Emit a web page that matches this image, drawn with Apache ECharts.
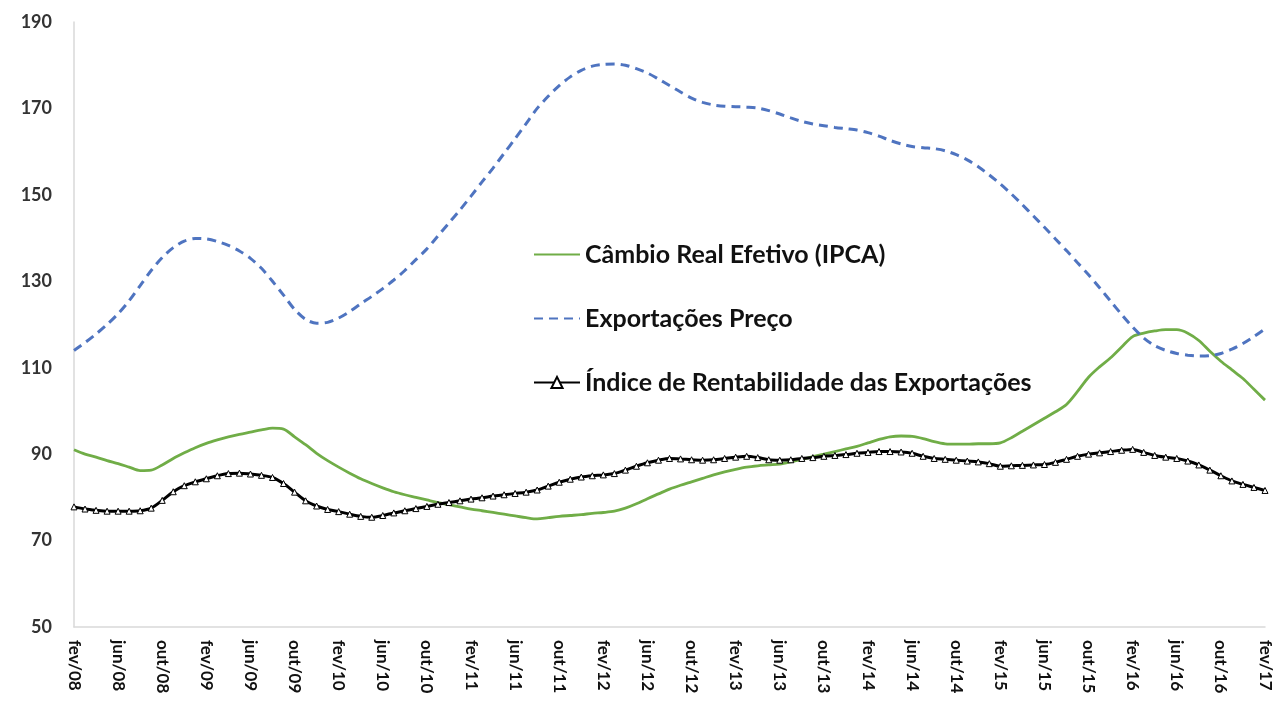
<!DOCTYPE html>
<html>
<head>
<meta charset="utf-8">
<script src="https://cdn.jsdelivr.net/npm/echarts@6/dist/echarts.min.js"></script>
<style>
html,body{margin:0;padding:0;background:#fff;}
#c{width:1277px;height:712px;}
</style>
</head>
<body>
<div id="c"></div>
<script>
// Categories: monthly, fev/08 .. fev/17
const monthNames = ['jan','fev','mar','abr','mai','jun','jul','ago','set','out','nov','dez'];
const categories = [];
for (let y = 8; y <= 17; y++) {
  for (let m = 0; m < 12; m++) {
    if (y === 8 && m < 1) continue;
    if (y === 17 && m > 1) continue;
    categories.push(monthNames[m] + '/' + (y < 10 ? '0' + y : '' + y));
  }
}

const seriesNames = ['Câmbio Real Efetivo (IPCA)', 'Exportações Preço', 'Índice de Rentabilidade das Exportações'];

const cambioReal = [
  91,90,89.3,88.5,87.8,87,86.2,86.3,87.5,89,90.3,91.5,92.5,93.3,94,94.6,95.1,95.6,96,95.8,
  94,92.2,90.2,88.5,87,85.6,84.3,83.2,82.2,81.3,80.6,80,79.4,78.8,78.3,77.8,77.3,76.9,76.5,76.1,
  75.7,75.3,75,75.3,75.6,75.8,76,76.3,76.5,76.8,77.5,78.5,79.7,80.8,81.9,82.8,83.6,84.4,85.2,85.9,
  86.5,87,87.3,87.5,87.7,88.2,88.8,89.4,90,90.6,91.2,91.8,92.6,93.4,94,94.2,94.1,93.6,92.9,92.4,
  92.3,92.3,92.4,92.4,92.6,93.8,95.3,96.8,98.3,99.8,101.5,104.5,107.8,110.2,112.3,114.8,117.2,118,118.5,118.8,
  118.8,118,116.3,113.8,111.5,109.5,107.5,105,102.5
];

const exportPreco = [
  114,115.8,117.8,120,122.5,125.5,129,132.5,135.5,137.8,139.3,139.9,139.8,139.2,138.3,137,135.3,133,130,126.8,
  123.5,121.2,120.3,120.5,121.5,123,124.8,126.5,128.3,130.3,132.5,135,137.5,140.5,143.5,146.5,149.7,153,156.2,159.6,
  163,166.5,170,172.8,175.3,177.3,178.8,179.8,180.2,180.3,180,179.2,178.2,176.8,175.3,173.8,172.4,171.4,170.8,170.5,
  170.4,170.3,170.1,169.5,168.7,167.8,167,166.4,166,165.6,165.3,165,164.4,163.6,162.6,161.8,161.2,160.9,160.7,160.2,
  159.3,158.1,156.5,154.6,152.5,150.2,147.7,145.1,142.5,139.8,137.1,134.3,131.5,128.5,125.4,122.3,119.4,116.9,115.1,114,
  113.3,112.9,112.7,112.8,113.3,114.3,115.6,117.2,119
];

const rentabilidade = [
  77.8,77.3,77,76.8,76.8,76.8,76.9,77.5,79.3,81.3,82.7,83.6,84.3,85,85.5,85.6,85.4,85.1,84.6,83.2,
  81.2,79.2,78,77.2,76.7,76.1,75.6,75.4,75.8,76.4,76.9,77.4,77.9,78.4,78.8,79.2,79.6,79.9,80.3,80.6,
  80.9,81.2,81.7,82.6,83.5,84.2,84.7,85,85.2,85.5,86.3,87.2,88,88.6,89,88.9,88.7,88.6,88.7,89,
  89.3,89.5,89.2,88.7,88.6,88.7,89,89.2,89.5,89.7,89.9,90.2,90.4,90.6,90.6,90.5,90.2,89.5,89,88.8,
  88.6,88.4,88.2,87.8,87.2,87.3,87.4,87.5,87.6,88.1,88.8,89.5,90,90.3,90.6,90.9,91.1,90.4,89.7,89.3,
  89,88.4,87.5,86.3,85,83.8,83,82.3,81.6
];

const yMin = 50, yMax = 190, yStep = 20;

const chart = echarts.init(document.getElementById('c'), null, {renderer: 'canvas'});
const font = 'Lato, "Open Sans", sans-serif';
const hiddenMarker = {color: 'rgba(0,0,0,0)', borderColor: 'rgba(0,0,0,0)', borderWidth: 0};

chart.setOption({
  animation: false,
  backgroundColor: '#ffffff',
  grid: {left: 74, right: 12, top: 22, bottom: 85, containLabel: false},
  legend: {
    orient: 'vertical',
    left: 528,
    top: 237,
    itemGap: 39,
    itemWidth: 46,
    itemHeight: 14,
    textStyle: {fontFamily: font, fontWeight: 'bold', fontSize: 25, color: '#111111'},
    data: [
      {name: seriesNames[0], itemStyle: hiddenMarker},
      {name: seriesNames[1], itemStyle: hiddenMarker},
      {name: seriesNames[2]}
    ]
  },
  xAxis: {
    type: 'category',
    data: categories,
    boundaryGap: false,
    axisLine: {show: true, lineStyle: {color: '#d9d9d9', width: 1.5}},
    axisTick: {show: false},
    splitLine: {show: false},
    axisLabel: {
      interval: 3,
      rotate: -90,
      margin: 13,
      fontFamily: font,
      fontWeight: 'bold',
      fontSize: 17,
      color: '#111111'
    }
  },
  yAxis: {
    type: 'value',
    min: yMin,
    max: yMax,
    interval: yStep,
    axisLine: {show: true, lineStyle: {color: '#d9d9d9', width: 1.5}},
    axisTick: {show: false},
    splitLine: {show: false},
    axisLabel: {
      margin: 22,
      fontFamily: font,
      fontWeight: 'bold',
      fontSize: 18,
      color: '#333333'
    }
  },
  series: [
    {
      name: seriesNames[0],
      type: 'line',
      data: cambioReal,
      smooth: 0.3,
      symbol: 'none',
      lineStyle: {color: '#70ad47', width: 2.8},
      itemStyle: {color: '#70ad47'}
    },
    {
      name: seriesNames[1],
      type: 'line',
      data: exportPreco,
      smooth: 0.3,
      symbol: 'none',
      lineStyle: {color: '#4f74c0', width: 3, type: [9, 6]},
      itemStyle: {color: '#4f74c0'}
    },
    {
      name: seriesNames[2],
      type: 'line',
      data: rentabilidade,
      smooth: 0.3,
      symbol: 'triangle',
      symbolSize: 6,
      showSymbol: true,
      lineStyle: {color: '#000000', width: 3},
      itemStyle: {color: '#ffffff', borderColor: '#000000', borderWidth: 1}
    }
  ]
});
</script>
</body>
</html>
